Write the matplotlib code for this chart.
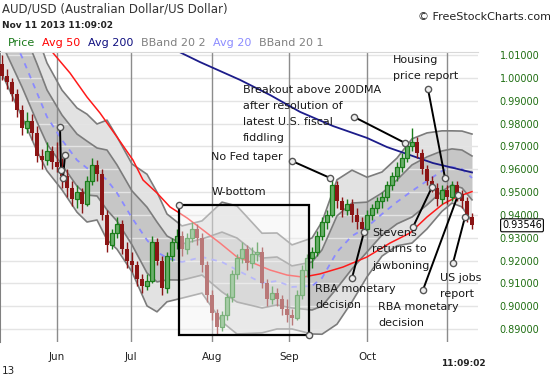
import numpy as np
import matplotlib.pyplot as plt
import matplotlib.transforms as mtransforms
from matplotlib.patches import Rectangle

W, H = 550, 375

# daily candles, bar index 0..94 (mid May -> Nov 11 2013)
opens = [1.006, 1.001, 0.998, 0.993, 0.986, 0.978, 0.981, 0.976, 0.966, 0.964,
         0.968, 0.963, 0.961, 0.957, 0.952, 0.947, 0.950, 0.945, 0.955, 0.962,
         0.958, 0.940, 0.927, 0.932, 0.936, 0.925, 0.920, 0.918, 0.912, 0.909,
         0.911, 0.928, 0.920, 0.908, 0.922, 0.928, 0.931, 0.925, 0.930, 0.934,
         0.930, 0.918, 0.905, 0.897, 0.891, 0.896, 0.904, 0.914, 0.921, 0.925,
         0.919, 0.923, 0.924, 0.910, 0.903, 0.906, 0.903, 0.899, 0.896, 0.895,
         0.905, 0.916, 0.921, 0.924, 0.931, 0.937, 0.940, 0.953, 0.946, 0.942,
         0.945, 0.940, 0.937, 0.934, 0.940, 0.943, 0.946, 0.948, 0.953, 0.957,
         0.961, 0.965, 0.970, 0.972, 0.967, 0.960, 0.955, 0.952, 0.947, 0.951,
         0.948, 0.953, 0.949, 0.946, 0.939]
highs = [1.010, 1.004, 1.000, 0.995, 0.988, 0.985, 0.984, 0.979, 0.969, 0.972,
         0.970, 0.972, 0.965, 0.960, 0.955, 0.953, 0.952, 0.957, 0.965, 0.964,
         0.960, 0.942, 0.934, 0.939, 0.938, 0.928, 0.924, 0.920, 0.914, 0.914,
         0.931, 0.930, 0.922, 0.924, 0.930, 0.934, 0.933, 0.932, 0.937, 0.936,
         0.932, 0.920, 0.907, 0.899, 0.898, 0.906, 0.916, 0.923, 0.928, 0.927,
         0.926, 0.928, 0.926, 0.912, 0.909, 0.908, 0.905, 0.903, 0.899, 0.907,
         0.918, 0.923, 0.926, 0.933, 0.939, 0.942, 0.956, 0.955, 0.948, 0.947,
         0.947, 0.943, 0.939, 0.942, 0.945, 0.948, 0.950, 0.955, 0.959, 0.963,
         0.967, 0.972, 0.978, 0.974, 0.969, 0.962, 0.957, 0.954, 0.953, 0.953,
         0.955, 0.955, 0.951, 0.948, 0.941]
lows = [0.999, 0.995, 0.990, 0.983, 0.975, 0.976, 0.973, 0.963, 0.960, 0.962,
        0.960, 0.959, 0.952, 0.948, 0.944, 0.943, 0.941, 0.944, 0.953, 0.955,
        0.938, 0.924, 0.925, 0.930, 0.923, 0.917, 0.915, 0.909, 0.906, 0.907,
        0.910, 0.918, 0.905, 0.906, 0.920, 0.925, 0.922, 0.923, 0.928, 0.927,
        0.915, 0.902, 0.894, 0.888, 0.889, 0.894, 0.902, 0.912, 0.919, 0.916,
        0.917, 0.920, 0.908, 0.900, 0.901, 0.900, 0.896, 0.893, 0.892, 0.894,
        0.903, 0.913, 0.917, 0.922, 0.929, 0.934, 0.939, 0.943, 0.939, 0.940,
        0.937, 0.934, 0.931, 0.933, 0.938, 0.941, 0.943, 0.946, 0.951, 0.955,
        0.959, 0.963, 0.968, 0.965, 0.958, 0.953, 0.950, 0.944, 0.945, 0.945,
        0.946, 0.946, 0.943, 0.937, 0.934]
closes = [1.001, 0.998, 0.993, 0.986, 0.978, 0.981, 0.976, 0.966, 0.964, 0.968,
          0.963, 0.961, 0.957, 0.952, 0.947, 0.950, 0.945, 0.955, 0.962, 0.958,
          0.940, 0.927, 0.932, 0.936, 0.925, 0.920, 0.918, 0.912, 0.909, 0.911,
          0.928, 0.920, 0.908, 0.922, 0.928, 0.931, 0.925, 0.930, 0.934, 0.930,
          0.918, 0.905, 0.897, 0.891, 0.896, 0.904, 0.914, 0.921, 0.925, 0.919,
          0.923, 0.924, 0.910, 0.903, 0.906, 0.903, 0.899, 0.896, 0.895, 0.905,
          0.916, 0.921, 0.924, 0.931, 0.937, 0.940, 0.953, 0.946, 0.942, 0.945,
          0.940, 0.937, 0.934, 0.940, 0.943, 0.946, 0.948, 0.953, 0.957, 0.961,
          0.965, 0.970, 0.972, 0.967, 0.960, 0.955, 0.952, 0.947, 0.951, 0.948,
          0.953, 0.949, 0.946, 0.939, 0.93546]

# Bollinger 20: centre (Avg 20) and one std dev, read at some bars
bb_idx = [0, 4, 7, 9, 12, 15, 17, 19, 21, 23, 26, 29, 31, 33, 36, 40, 44, 47,
          52, 55, 58, 62, 64, 67, 70, 73, 76, 79, 82, 85, 88, 90, 92, 94]
bb_mid = [1.0279, 1.0091, 0.9934, 0.9829, 0.9728, 0.9640, 0.9605, 0.9588,
          0.9553, 0.9496, 0.9387, 0.9290, 0.9238, 0.9212, 0.9194, 0.9216,
          0.9194, 0.9159, 0.9102, 0.9111, 0.9085, 0.9089, 0.9124, 0.9238,
          0.9308, 0.9347, 0.9404, 0.9457, 0.9505, 0.9549, 0.9592, 0.9610,
          0.9601, 0.9562]
bb_sd = [0.0131, 0.0131, 0.0127, 0.0118, 0.0109, 0.0114, 0.0118, 0.0105,
         0.0131, 0.0123, 0.0118, 0.0144, 0.0131, 0.0096, 0.0079, 0.0079,
         0.0131, 0.0140, 0.0109, 0.0105, 0.0092, 0.0105, 0.0123, 0.0158,
         0.0144, 0.0109, 0.0092, 0.0096, 0.0114, 0.0105, 0.0088, 0.0079,
         0.0083, 0.0096]

avg50_idx = [8.8, 10.2, 13.6, 17, 19.6, 23, 26.2, 28.2, 31, 33.6, 37, 40.2,
             43.6, 47, 50.2, 53.6, 57, 60.2, 63.6, 68.2, 73, 77.6, 81.6, 85,
             88.2, 91, 94]
avg50 = [1.0160, 1.0109, 1.0021, 0.9916, 0.9846, 0.9741, 0.9640, 0.9553,
         0.9496, 0.9435, 0.9387, 0.9334, 0.9277, 0.9216, 0.9190, 0.9159,
         0.9137, 0.9128, 0.9142, 0.9172, 0.9216, 0.9277, 0.9321, 0.9391,
         0.9448, 0.9479, 0.9502]

avg200_idx = [32, 39.6, 47.6, 53.6, 59.6, 66.2, 73, 77, 81.6, 86.2, 94]
avg200 = [1.0150, 1.0069, 0.9991, 0.9925, 0.9851, 0.9789, 0.9737, 0.9697,
          0.9662, 0.9627, 0.9586]

month_pos = [11, 25.8, 42, 57.4, 73, 89]
month_lbl = ['Jun', 'Jul', 'Aug', 'Sep', 'Oct', '']
last_price = 0.93546

# annotation pointers (bar index, price)
pointers = [((11.6, 0.9785), (11.8, 0.9597)),
            ((12.6, 0.9662), (12.2, 0.9562)),
            ((58.0, 0.9636), (65.6, 0.9562)),   # No Fed taper
            ((70.4, 0.9829), (80.6, 0.9715)),   # breakout
            ((85.2, 0.9951), (88.6, 0.9562)),   # housing
            ((82.2, 0.9347), (86.0, 0.9522)),   # Stevens
            ((70.0, 0.9124), (72.4, 0.9325)),   # RBA
            ((84.2, 0.9072), (91.2, 0.9487)),   # RBA
            ((90.2, 0.9190), (92.6, 0.9391))]   # US jobs
wbox = (35.4, 0.8875, 61.4, 0.9444)

fig = plt.figure(figsize=(W / 100, H / 100), dpi=100)
ax = fig.add_axes([0.0, 1 - 342 / H, 478 / W, 290 / H])
ax.set_xlim(-0.4, 95.2)
ax.set_ylim(0.8844, 1.0113)


def px_text(px, py, s, **kw):
    kw.setdefault('va', 'center')
    kw.setdefault('ha', 'left')
    fig.text(px / W, 1 - py / H, s, **kw)


bx = np.array(bb_idx)
mid = np.array(bb_mid)
sd = np.array(bb_sd)
ax.fill_between(bx, mid - 2 * sd, mid + 2 * sd, color='#e2e2e2', lw=0, zorder=1)
ax.fill_between(bx, mid - sd, mid + sd, color='#c6c6c6', lw=0, zorder=1.1)

yt = [round(0.89 + 0.01 * k, 2) for k in range(13)]
for y in yt:
    ax.axhline(y, color='#e4e4e4', lw=1, zorder=1.3)
for m in month_pos:
    ax.axvline(m, color='#8c8c8c', lw=1, zorder=1.4)

for k in (-2, -1, 1, 2):
    ax.plot(bx, mid + k * sd, color='#7c7c7c', lw=1.2, zorder=2)
ax.plot(bx, mid, color='#8a8aff', lw=1.3, ls=(0, (3, 3)), zorder=2.1)
ax.plot(avg50_idx, avg50, color='#ff1a1a', lw=1.1, zorder=2.2)
ax.plot(avg200_idx, avg200, color='#1c1c8a', lw=1.3, zorder=2.2)

o = np.array(opens)
h = np.array(highs)
l = np.array(lows)
c = np.array(closes)
x = np.arange(len(c))
up = c >= o
green, red = '#1a7d1a', '#8b1515'
ax.vlines(x[up], l[up], h[up], color=green, lw=1, zorder=3)
ax.vlines(x[~up], l[~up], h[~up], color=red, lw=1, zorder=3)
ax.bar(x[up], np.maximum((c - o)[up], 0.0008), bottom=o[up], width=0.66,
       facecolor='#6aae6a', edgecolor=green, lw=0.9, zorder=3.1)
ax.bar(x[~up], np.maximum((o - c)[~up], 0.0008), bottom=c[~up], width=0.66,
       color=red, lw=0, zorder=3.1)

x0, y0, x1, y1 = wbox
ax.add_patch(Rectangle((x0, y0), x1 - x0, y1 - y0, facecolor=(0.95, 0.95, 0.95, 0.45),
                       edgecolor='black', lw=1.6, zorder=4))
ax.plot([x0, x1], [y1, y0], 'o', ms=4.5, mfc='#eeeeee', mec='#555555', mew=1,
        zorder=6, clip_on=False)

for (ax0, ay0), (ax1, ay1) in pointers:
    ax.plot([ax0, ax1], [ay0, ay1], color='black', lw=1.4, zorder=5)
    ax.plot([ax0, ax1], [ay0, ay1], 'o', ms=4.5, mfc='#eeeeee', mec='#555555',
            mew=1, zorder=6)

for s in ('right', 'bottom'):
    ax.spines[s].set_visible(False)
ax.spines['left'].set_color('#808080')
ax.spines['left'].set_linewidth(1.5)
ax.spines['top'].set_color('#d8d8d8')

ax.yaxis.tick_right()
ax.set_yticks(yt)
ax.set_yticklabels([f'{v:.5f}' for v in yt])
ax.tick_params(axis='y', length=0, pad=15.5, labelsize=7, labelcolor='#1f6e12')
ax.set_xticks(month_pos)
ax.set_xticklabels(month_lbl)
ax.tick_params(axis='x', length=0, pad=7, labelsize=7.5, labelcolor='#222222')

tr = mtransforms.blended_transform_factory(ax.transAxes, ax.transData)
ax.text(522 / 478, last_price, f'{last_price:.5f}', transform=tr, ha='center',
        va='center', fontsize=7, color='black', zorder=10, clip_on=False,
        bbox=dict(boxstyle='round,pad=0.15', fc='white', ec='black', lw=0.8))

# header
px_text(2, 9, 'AUD/USD (Australian Dollar/US Dollar)', fontsize=8.5, color='#333333')
px_text(2, 25, 'Nov 11 2013 11:09:02', fontsize=6.5, fontweight='bold', color='#222222')
px_text(418, 17, '\u00a9 FreeStockCharts.com', fontsize=8, color='#222222')
legend = [(8, 'Price', '#1a7a1a'), (42, 'Avg 50', '#ff0000'), (88, 'Avg 200', '#101080'),
          (141, 'BBand 20 2', '#808080'), (213, 'Avg 20', '#8c8cff'),
          (259, 'BBand 20 1', '#808080')]
for lx, lt, lc in legend:
    px_text(lx, 43, lt, fontsize=8, color=lc)

px_text(2, 371, '13', fontsize=7.5, color='#222222')
px_text(463, 363, '11:09:02', fontsize=6.5, fontweight='bold', color='#222222', ha='center')

# notes
note_kw = dict(fontsize=8, color='#1a1a1a')
for i, t in enumerate(['Breakout above 200DMA', 'after resolution of',
                       'latest U.S. fiscal', 'fiddling']):
    px_text(243, 90 + 16 * i, t, **note_kw)
px_text(211, 157, 'No Fed taper', **note_kw)
px_text(212, 192, 'W-bottom', **note_kw)
px_text(393, 60, 'Housing', **note_kw)
px_text(393, 76, 'price report', **note_kw)
for i, t in enumerate(['Stevens', 'returns to', 'jawboning']):
    px_text(372, 233 + 16.5 * i, t, **note_kw)
px_text(315, 289, 'RBA monetary', **note_kw)
px_text(315, 305, 'decision', **note_kw)
px_text(378, 307, 'RBA monetary', **note_kw)
px_text(378, 323, 'decision', **note_kw)
px_text(440, 278, 'US jobs', **note_kw)
px_text(440, 294, 'report', **note_kw)

fig.savefig('out.png', dpi=100)
